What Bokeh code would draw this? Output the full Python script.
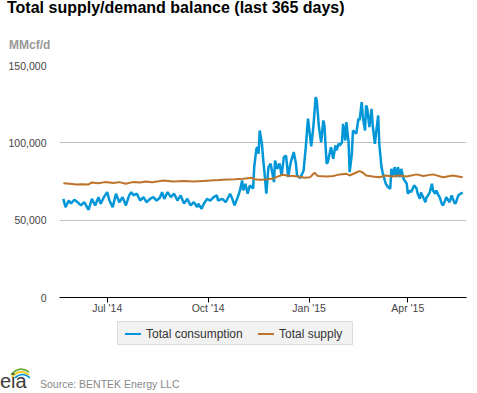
import numpy as np
from datetime import datetime
from bokeh.plotting import figure
from bokeh.models import (Range1d, FixedTicker, NumeralTickFormatter, CustomJSTickFormatter, Div)
from bokeh.layouts import column
from bokeh.embed import file_html
from bokeh.resources import INLINE

# ---------------- data ----------------
title_text = "Total supply/demand balance (last 365 days)"
unit_text = "MMcf/d"
source_text = "Source: BENTEK Energy LLC"
series_names = ["Total consumption", "Total supply"]
series_colors = ["#0096d7", "#bd732a"]
start_date = "2014-05-22"   # first day of the 365-day window

# day offsets from start_date and values (MMcf/d)
cons_days = [0, 2, 5, 7, 10, 13, 16, 19, 23, 26, 29, 32, 34, 37, 40, 42, 45, 48, 51, 54,
             57, 60, 62, 64, 67, 70, 73, 76, 79, 82, 85, 88, 90, 92, 95, 98, 101, 104, 107, 110,
             113, 116, 119, 122, 123, 126, 128, 131, 134, 137, 140, 141, 145, 148, 152, 154, 156, 159, 161, 163,
             164, 166, 168, 170, 173, 174, 176, 177, 178, 179, 181, 182, 184, 185, 187, 189, 192, 193, 195, 197,
             199, 201, 203, 205, 207, 210, 212, 213, 216, 219, 221, 223, 225, 226, 228, 230, 231, 233, 235, 237,
             238, 240, 241, 244, 246, 248, 249, 251, 252, 254, 255, 257, 258, 260, 261, 263, 264, 267, 269, 270,
             272, 273, 275, 276, 277, 279, 280, 281, 282, 284, 285, 287, 288, 290, 291, 293, 294, 296, 298, 299,
             301, 302, 304, 305, 307, 308, 310, 311, 313, 314, 316, 317, 319, 320, 322, 323, 325, 326, 328, 330,
             331, 333, 334, 336, 337, 339, 340, 342, 343, 345, 346, 348, 349, 351, 352, 354, 355, 357, 358, 360,
             362, 364]
cons_vals = [63800, 58400, 62700, 60800, 63200, 61600, 59500, 61600, 56700, 63800, 59500, 64900, 60600, 64900, 68100, 62700, 58400, 67100, 61600, 64900,
             59500, 66000, 68100, 66000, 67100, 62700, 64900, 61600, 63800, 64900, 62700, 64500, 68100, 63800, 68100, 64900, 67100, 62700, 66000, 60700,
             63800, 59500, 61600, 58400, 60600, 57400, 60600, 63800, 62700, 64900, 66000, 62700, 63800, 61600, 67100, 63800, 59500, 64900, 69200, 75700,
             69200, 73500, 67100, 72400, 70500, 84300, 96200, 97200, 92900, 108000, 99400, 90700, 75700, 67100, 84300, 86500, 74600, 88600, 83200, 86700,
             78900, 90700, 91800, 77800, 86500, 94000, 86700, 78900, 77300, 82100, 97200, 115600, 103700, 97700, 111200, 129600, 127400, 110200, 100400, 114500,
             111200, 86500, 87300, 97200, 89700, 98300, 95100, 99400, 98300, 100400, 112300, 101500, 113400, 100400, 81000, 92900, 108000, 105900, 115600, 114500,
             126300, 116600, 108000, 124200, 122200, 110200, 116600, 122000, 111200, 99400, 105900, 117700, 99400, 84300, 81000, 75700, 73500, 71300, 70300, 83200,
             78900, 84300, 77800, 84300, 77800, 83200, 77000, 75700, 73700, 67100, 69200, 68100, 71300, 72400, 70500, 67100, 63800, 67900, 64900, 61600,
             64700, 66600, 68100, 73500, 69200, 67100, 69200, 66000, 64900, 60600, 59500, 62700, 64900, 62700, 61600, 66000, 63800, 60600, 61600, 66000,
             67100, 67900]

sup_days = [0, 6, 12, 17, 23, 26, 32, 38, 46, 51, 57, 63, 70, 75, 81, 87, 91, 100, 110, 119,
            127, 134, 142, 149, 157, 164, 172, 174, 179, 184, 192, 194, 200, 205, 210, 215, 220, 225, 229, 232,
            240, 246, 252, 258, 261, 267, 270, 272, 273, 276, 282, 288, 294, 300, 306, 313, 322, 328, 337, 346,
            355, 364]
sup_vals = [73900, 73500, 73100, 73300, 73100, 74400, 73900, 74600, 74100, 74600, 73500, 74600, 74300, 75000, 74500, 75200, 75700, 75000, 75300, 75000,
            75400, 75700, 75900, 76300, 76500, 76800, 77400, 76400, 76100, 76300, 77000, 77800, 79400, 78700, 78500, 78000, 77400, 77800, 80700, 78500,
            78300, 78600, 79600, 80000, 78900, 80800, 81700, 81000, 80800, 78900, 78300, 77800, 78900, 78300, 78900, 78300, 79600, 78600, 79600, 77800,
            78900, 77800]

y_ticks = [0, 50000, 100000, 150000]
x_tick_dates = ["2014-07-01", "2014-10-01", "2015-01-01", "2015-04-01"]
x_tick_labels = ["Jul '14", "Oct '14", "Jan '15", "Apr '15"]

# ---------------- build ----------------
base = np.datetime64(start_date, "ms")
cons_x = base + np.array(cons_days, dtype="timedelta64[D]").astype("timedelta64[ms]")
sup_x = base + np.array(sup_days, dtype="timedelta64[D]").astype("timedelta64[ms]")
tick_ms = [float(np.datetime64(d, "ms").astype("int64")) for d in x_tick_dates]

FONT = "Liberation Sans"
CSS_FONT = "'Liberation Sans', Arial, sans-serif"

p = figure(width=469, height=267, x_axis_type="datetime",
           output_backend="svg", toolbar_location=None,
           x_range=Range1d(datetime(2014, 5, 18, 12), datetime(2015, 5, 24, 12)),
           y_range=Range1d(0, 150000),
           min_border_left=59, min_border_right=3, min_border_top=14, min_border_bottom=21,
           margin=(0, 0, 0, 0))
p.outline_line_color = None
p.background_fill_color = "white"
p.border_fill_color = "white"

r_cons = p.line(cons_x, cons_vals, line_color=series_colors[0], line_width=2.5)
r_sup = p.line(sup_x, sup_vals, line_color=series_colors[1], line_width=2)

# y axis
p.yaxis.ticker = FixedTicker(ticks=y_ticks)
p.yaxis.formatter = NumeralTickFormatter(format="0,0")
p.yaxis.axis_line_color = None
p.yaxis.major_tick_line_color = None
p.yaxis.minor_tick_line_color = None
p.yaxis.major_label_standoff = 7
p.yaxis.major_label_text_font = FONT
p.yaxis.major_label_text_font_size = "10.5px"
p.yaxis.major_label_text_color = "#444444"
p.ygrid.ticker = FixedTicker(ticks=y_ticks)
p.ygrid.grid_line_color = "#c0c0c0"
p.xgrid.grid_line_color = None

# x axis
p.xaxis.ticker = FixedTicker(ticks=tick_ms)
p.xaxis.formatter = CustomJSTickFormatter(args=dict(labels=x_tick_labels),
                                          code="return labels[index];")
p.xaxis.axis_line_color = "#000000"
p.xaxis.major_tick_line_color = "#000000"
p.xaxis.major_tick_out = 5
p.xaxis.major_tick_in = 0
p.xaxis.minor_tick_line_color = None
p.xaxis.major_label_standoff = -1
p.xaxis.major_label_text_font = FONT
p.xaxis.major_label_text_font_size = "10.5px"
p.xaxis.major_label_text_color = "#444444"

title_div = Div(text=f'<div style="padding-left:7px;font: bold 16px/16px {CSS_FONT}; color:#000; white-space:nowrap;">{title_text}</div>',
                width=477, height=37, margin=(0, 0, 0, 0))
unit_div = Div(text=f'<div style="padding-left:9px;font: bold 12px/14px {CSS_FONT}; color:#999999; white-space:nowrap;">{unit_text}</div>',
               width=477, height=14, margin=(0, 0, 0, 0))

legend_html = f'''<div style="position:relative;width:477px;height:32px;">
<div style="position:absolute;left:117px;top:3px;width:236px;height:24px;background:#f2f2f2;border:1px solid #dcdcdc;font:12px/24px {CSS_FONT};color:#333333;white-space:nowrap;">
<span style="position:absolute;left:7px;top:11px;width:16px;height:2px;background:{series_colors[0]};"></span>
<span style="position:absolute;left:28px;top:0px;">{series_names[0]}</span>
<span style="position:absolute;left:140px;top:11px;width:16px;height:2px;background:{series_colors[1]};"></span>
<span style="position:absolute;left:161px;top:0px;">{series_names[1]}</span>
</div></div>'''
legend_div = Div(text=legend_html, width=477, height=32, margin=(0, 0, 0, 0))

footer_html = f'''<div style="position:relative;width:477px;height:43px;">
<svg width="36" height="28" style="position:absolute;left:0;top:14px;overflow:visible;" xmlns="http://www.w3.org/2000/svg">
<path d="M11 11 Q19 1 29 8" stroke="#62a83a" stroke-width="1.6" fill="none"/>
<path d="M12 13 Q20 4 29 11" stroke="#f0c419" stroke-width="1.6" fill="none"/>
<path d="M15 14 Q22 7 30 14" stroke="#0096d7" stroke-width="1.6" fill="none"/>
<text x="0" y="24" font-family="Liberation Serif, serif" font-size="20" fill="#3c3c3c">eia</text>
</svg>
<div style="position:absolute;left:40px;top:28px;font:10.5px/12px {CSS_FONT};color:#888888;white-space:nowrap;">{source_text}</div>
</div>'''
footer_div = Div(text=footer_html, width=477, height=43, margin=(0, 0, 0, 0))

layout = column(title_div, unit_div, p, legend_div, footer_div)

open("out.html", "w").write(file_html(layout, INLINE))
